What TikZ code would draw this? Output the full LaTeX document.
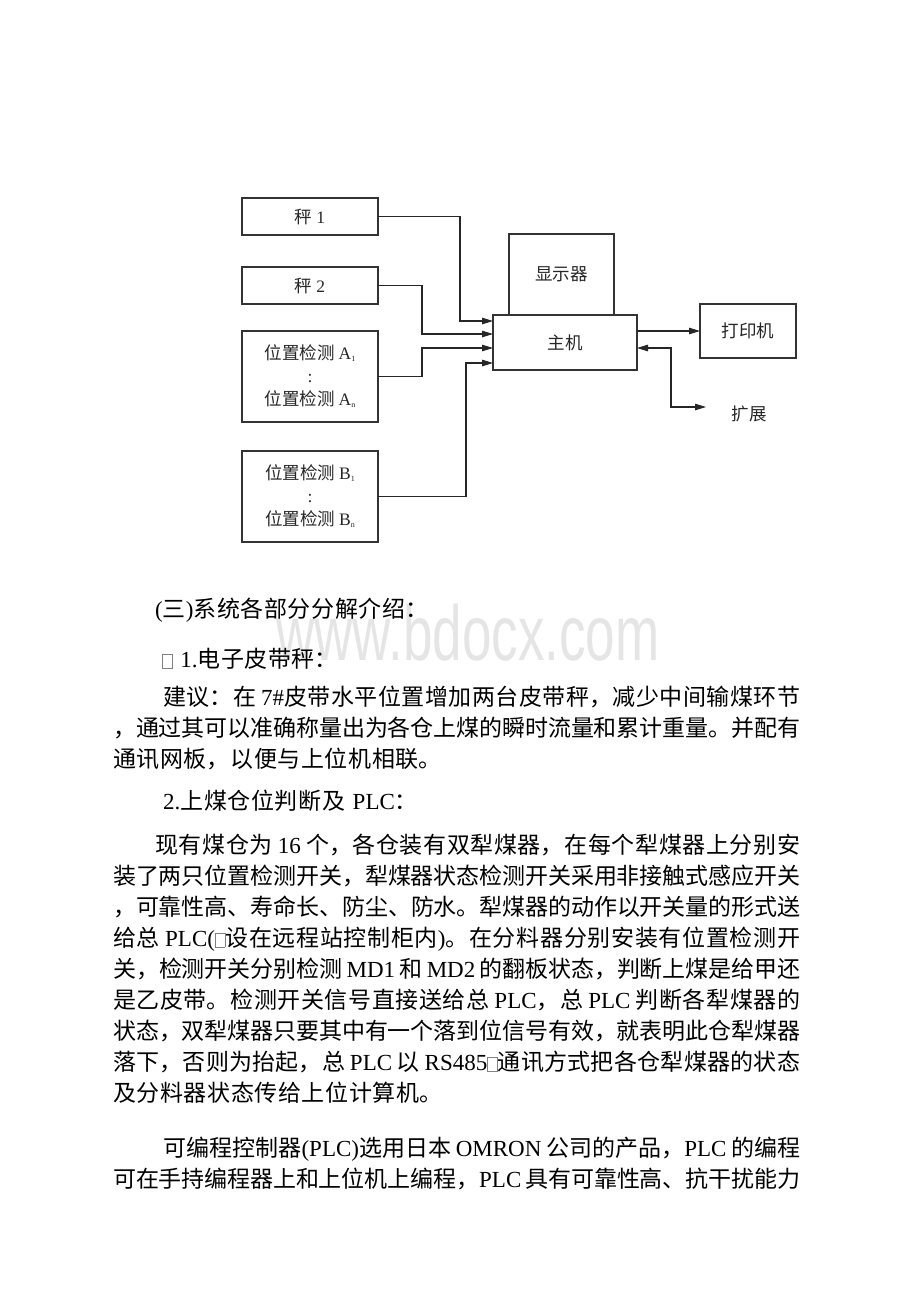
\documentclass[tikz,border=0pt]{standalone}
\usepackage{fontspec}
\usepackage{graphicx}
\setmainfont{Noto Sans CJK SC}
\newfontfamily\lat{Liberation Serif}
\newfontfamily\wmfont{Liberation Sans}
\usetikzlibrary{positioning, arrows.meta, calc}
\XeTeXlinebreaklocale "zh"
\XeTeXlinebreakskip=0.6pt plus 1.5pt minus 1.5pt
\XeTeXlinebreakpenalty=10000
\newcommand{\en}[1]{{\lat #1}}
\newcommand{\sub}[1]{\raisebox{-2pt}{\fontsize{8}{8}\selectfont #1}}
\newcommand{\nog}{{\color{gray}\setlength{\fboxsep}{0pt}\setlength{\fboxrule}{0.7pt}\fbox{\rule{0pt}{13pt}\hspace{9pt}}}}
\tikzset{
  box/.style={draw=black!80, line width=1.2pt, inner sep=0pt, outer sep=0pt, align=center,
    text=black!85, font=\fontsize{17.5}{23}\selectfont},
  wire/.style={draw=black!85, line width=1.1pt},
  txt/.style={anchor=base west, inner sep=0pt, font=\fontsize{23}{31}\selectfont},
  jline/.style={txt, text width=#1, align=justify,
    execute at begin node={\parfillskip=0pt\noindent}},
  pline/.style={txt, text width=600pt, align=left,
    execute at begin node={\noindent}},
}
\begin{document}
\begin{tikzpicture}[x=1pt, y=-1pt, >={Triangle[length=11pt,width=6.5pt]}]
    \useasboundingbox (0,0) rectangle (920,1302);

    \node[anchor=base, text=black!10, font=\wmfont\fontsize{78}{78}\selectfont] (wm) at (468,660)
        {\scalebox{0.68}[1]{www.bdocx.com}};

    \node[box, minimum width=136pt, minimum height=37pt] (cheng1) at (310,216.5) {秤~\en{1}};
    \node[box, minimum width=136pt, minimum height=37pt] (cheng2) [below=32pt of cheng1] {秤~\en{2}};
    \node[box, minimum width=136pt, minimum height=91pt] (posA) [below=27pt of cheng2]
        {位置检测~\en{A\sub{1}}\\\en{:}\\位置检测~\en{A\sub{n}}};
    \node[box, minimum width=136pt, minimum height=91pt] (posB) [below=29pt of posA]
        {位置检测~\en{B\sub{1}}\\\en{:}\\位置检测~\en{B\sub{n}}};
    \node[box, minimum width=144pt, minimum height=55pt] (host) at (565,342.5) {主机};
    \node[box, minimum width=105pt, minimum height=81pt] (display) at (561.5,274.5) {显示器};
    \node[box, minimum width=96pt, minimum height=54pt] (printer) at (748,331) {打印机};
    \node[box, draw=none] (expand) at (749,414) {扩展};
    \coordinate (extend) at (706,407);

    \coordinate (in1) at (host.west |- 0,321);
    \coordinate (in2) at (host.west |- 0,334);
    \coordinate (in3) at (host.west |- 0,348);
    \coordinate (in4) at (host.west |- 0,363);

    \draw[wire, ->] (cheng1.east) -- ++(82,0) |- (in1);
    \draw[wire, ->] (cheng2.east) -- ++(44,0) |- (in2);
    \draw[wire, ->] (posA.east) -- ++(44,0) |- (in3);
    \draw[wire, ->] (posB.east) -- ++(88,0) |- (in4);
    \draw[wire, ->] (host.east |- printer.west) -- (printer.west);
    \draw[wire, <->] (host.east |- 0,348) -- ++(34,0) |- (extend);

    \node[pline] (t1) at (155,617.5) {\en{(}三\en{)}系统各部分分解介绍：};
    \node[pline] (t2) at (162,667.5) {\nog~\en{1.}电子皮带秤：};
    \node[jline=637pt] (p1a) at (163,705.5) {建议：在~\en{7\#}皮带水平位置增加两台皮带秤，减少中间输煤环节};
    \node[jline=687pt] (p1b) at (113,736.5) {，通过其可以准确称量出为各仓上煤的瞬时流量和累计重量。并配有};
    \node[pline] (p1c) at (113,767.5) {通讯网板，以便与上位机相联。};
    \node[pline] (t3) at (163,809.5) {\en{2.}上煤仓位判断及~\en{PLC}：};
    \node[jline=645pt] (p2a) at (155,853.5) {现有煤仓为~\en{16}~个，各仓装有双犁煤器，在每个犁煤器上分别安};
    \node[jline=687pt] (p2b) at (113,884.5) {装了两只位置检测开关，犁煤器状态检测开关采用非接触式感应开关};
    \node[jline=687pt] (p2c) at (113,915.5) {，可靠性高、寿命长、防尘、防水。犁煤器的动作以开关量的形式送};
    \node[jline=687pt] (p2d) at (113,946.5) {给总~\en{PLC(}\nog 设在远程站控制柜内\en{)}。在分料器分别安装有位置检测开};
    \node[jline=687pt] (p2e) at (113,977.5) {关，检测开关分别检测~\en{MD1}~和~\en{MD2}~的翻板状态，判断上煤是给甲还};
    \node[jline=687pt] (p2f) at (113,1008.5) {是乙皮带。检测开关信号直接送给总~\en{PLC}，总~\en{PLC}~判断各犁煤器的};
    \node[jline=687pt] (p2g) at (113,1039.5) {状态，双犁煤器只要其中有一个落到位信号有效，就表明此仓犁煤器};
    \node[jline=687pt] (p2h) at (113,1070.5) {落下，否则为抬起，总~\en{PLC}~以~\en{RS485}\nog 通讯方式把各仓犁煤器的状态};
    \node[pline] (p2i) at (113,1101.5) {及分料器状态传给上位计算机。};
    \node[jline=637pt] (p3a) at (163,1156.5) {可编程控制器\en{(PLC)}选用日本~\en{OMRON}~公司的产品，\en{PLC}~的编程};
    \node[jline=687pt] (p3b) at (113,1187.5) {可在手持编程器上和上位机上编程，\en{PLC}~具有可靠性高、抗干扰能力};
\end{tikzpicture}
\end{document}
